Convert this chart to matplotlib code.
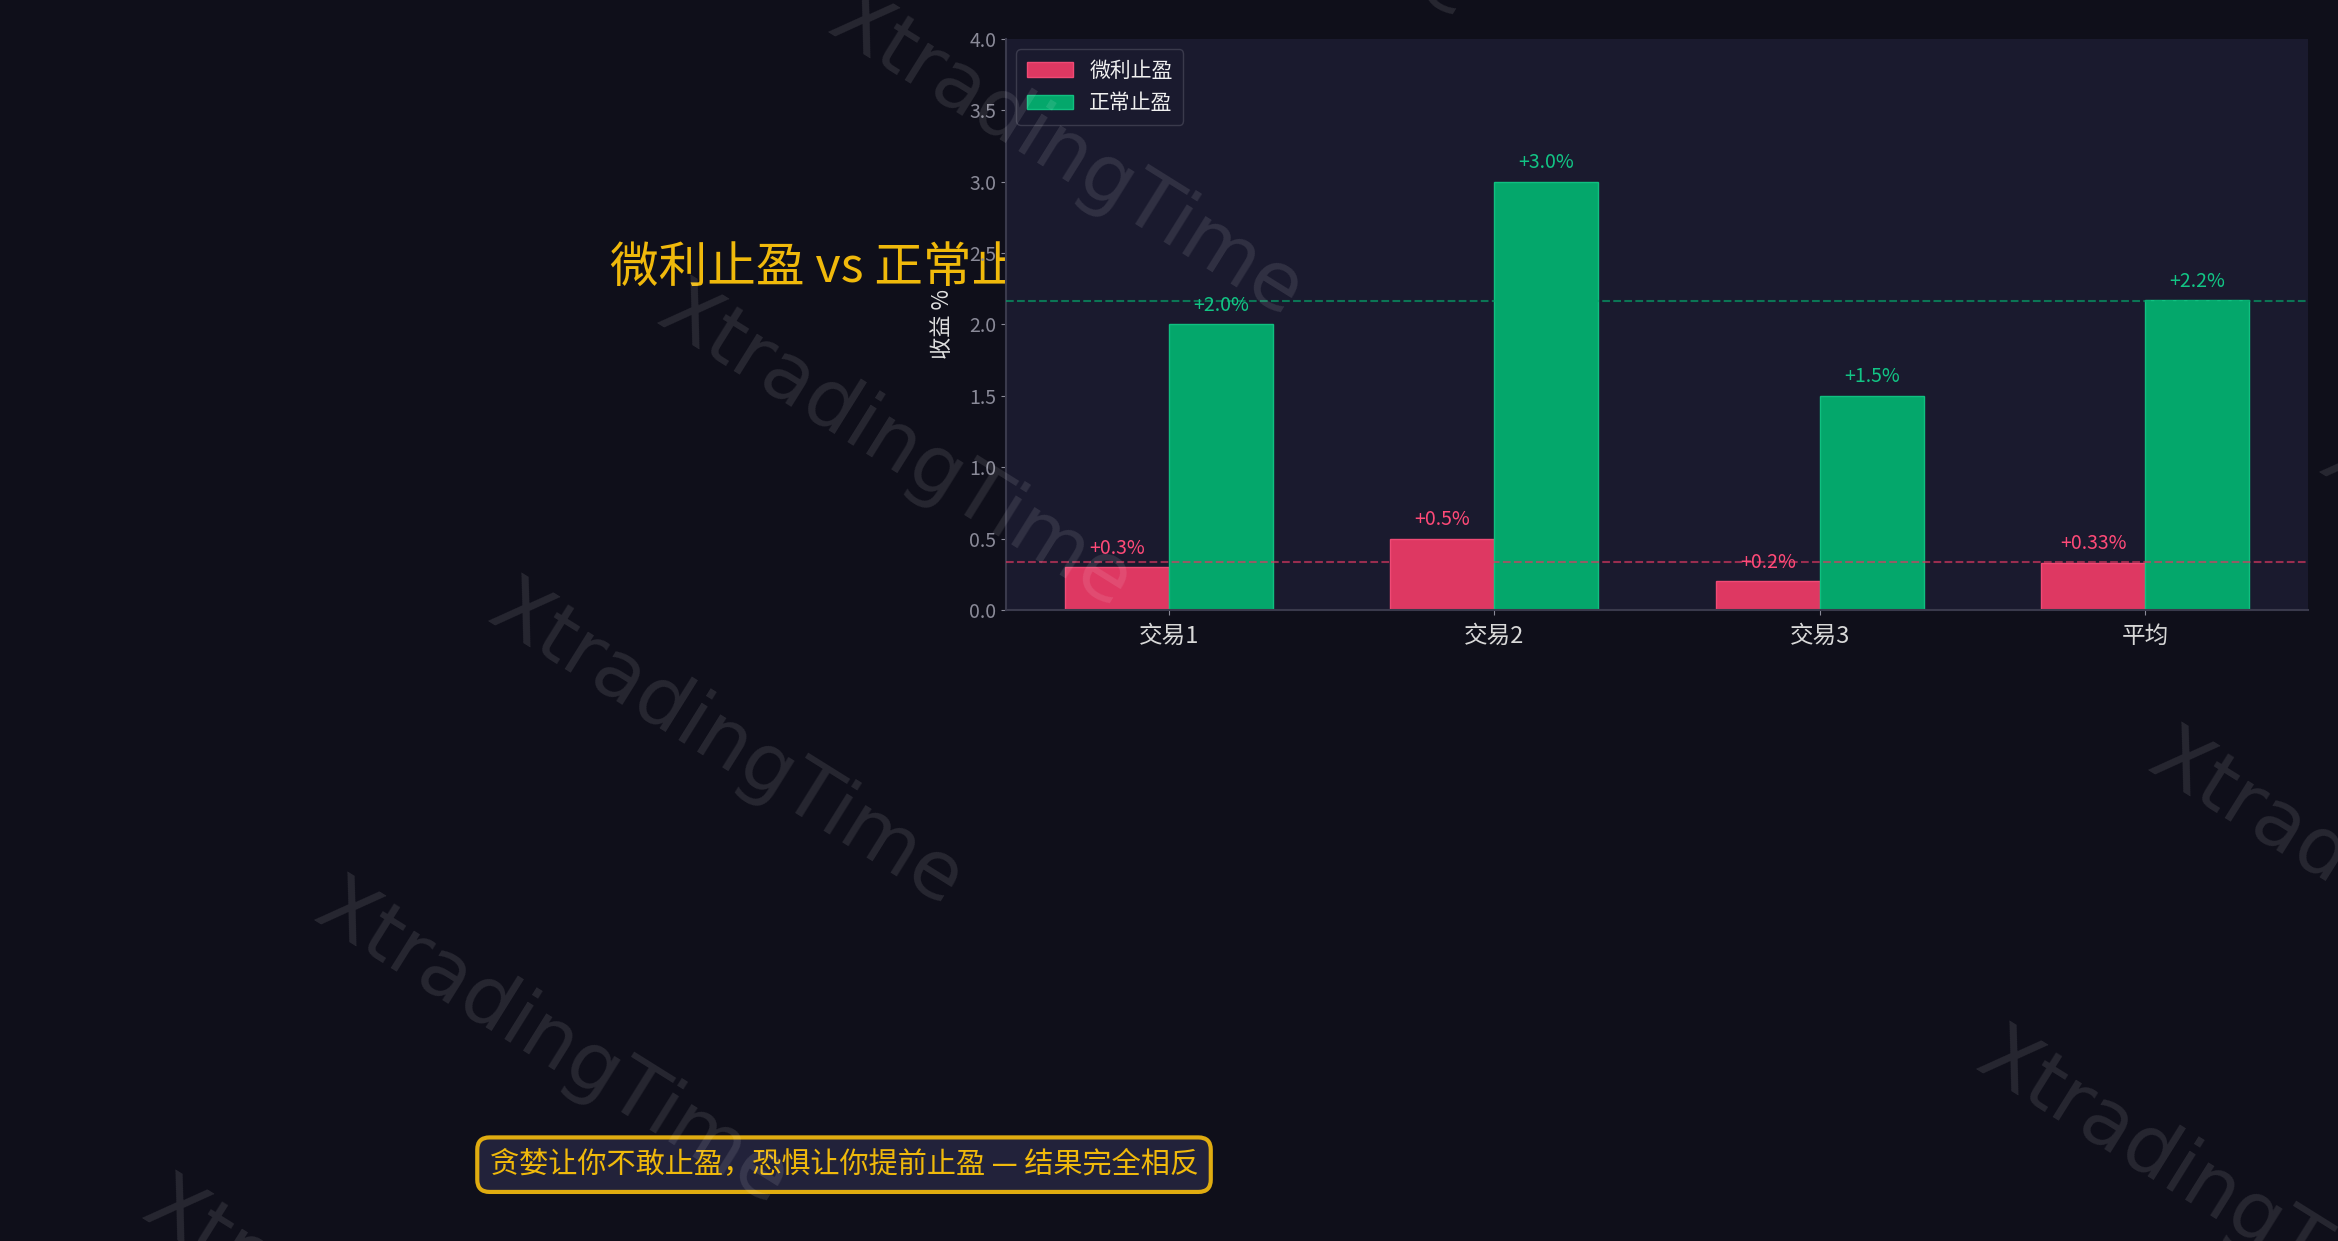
import matplotlib
matplotlib.use("Agg")
import matplotlib.pyplot as plt
import numpy as np

plt.rcParams['font.family'] = ['Noto Sans CJK SC', 'DejaVu Sans']

# data
categories = ["交易1", "交易2", "交易3", "平均"]
small_tp = [0.3, 0.5, 0.2, 0.33]
normal_tp = [2.0, 3.0, 1.5, 2.17]
small_labels = ["+0.3%", "+0.5%", "+0.2%", "+0.33%"]
normal_labels = ["+2.0%", "+3.0%", "+1.5%", "+2.2%"]
series_names = ["微利止盈", "正常止盈"]
title = "微利止盈 vs 正常止盈"
footer = "贪婪让你不敢止盈，恐惧让你提前止盈 — 结果完全相反"

BG = "#0f0f1a"
AX_BG = "#1a1a2e"
PINK = "#de3862"
GREEN = "#04a76b"
GOLD = "#f0b90b"

fig = plt.figure(figsize=(23.38, 12.41), dpi=100, facecolor=BG)
ax = fig.add_axes([0.4303, 0.5085, 0.5569, 0.4601])
ax.set_facecolor(AX_BG)

x = np.arange(len(categories))
w = 0.32
ax.bar(x - w / 2, small_tp, w, color=PINK, edgecolor="#f04a75", linewidth=1, label=series_names[0], zorder=2)
ax.bar(x + w / 2, normal_tp, w, color=GREEN, edgecolor="#10c080", linewidth=1, label=series_names[1], zorder=2)

for xi, h, s in zip(x - w / 2, small_tp, small_labels):
    ax.text(xi, h + 0.06, s, ha="center", va="bottom", color="#ff4a78", fontsize=14, zorder=4)
for xi, h, s in zip(x + w / 2, normal_tp, normal_labels):
    ax.text(xi, h + 0.06, s, ha="center", va="bottom", color="#12c585", fontsize=14, zorder=4)

ax.axhline(np.mean(small_tp[:3]), color=PINK, linestyle="--", linewidth=1.5, alpha=0.65, zorder=3)
ax.axhline(np.mean(normal_tp[:3]), color=GREEN, linestyle="--", linewidth=1.5, alpha=0.65, zorder=3)

ax.set_xlim(-0.5, len(categories) - 0.5)
ax.set_ylim(0, 4.0)
ax.set_yticks(np.arange(0, 4.01, 0.5))
ax.set_xticks(x)
ax.set_xticklabels(categories, fontsize=17, color="#d8d8d8")
ax.tick_params(axis="y", colors="#8a8a98", labelsize=14)
ax.tick_params(axis="x", colors="#8a8a98", labelcolor="#d8d8d8", pad=7)
for sp in ["top", "right"]:
    ax.spines[sp].set_visible(False)
for sp in ["left", "bottom"]:
    ax.spines[sp].set_color("#3a3a4c")
    ax.spines[sp].set_linewidth(1.5)

ax.set_ylabel("收益 %", color="#e0e0e0", fontsize=16)
ax.yaxis.set_label_coords(-0.040, 0.5)

ax.legend(loc="upper left", fontsize=15, facecolor=AX_BG, edgecolor="#3a3a4c",
          labelcolor="#f0f0f0", framealpha=1.0, handlelength=2.2, borderpad=0.5)

# title sits behind the axes
fig.text(0.261, 0.784, title, color=GOLD, fontsize=35, ha="left", va="center", zorder=-1)

fig.text(0.361, 0.0615, footer, color=GOLD, fontsize=21, ha="center", va="center",
         bbox=dict(boxstyle="round,pad=0.42", fc="#22223a", ec="#e0ac10", lw=3))

# watermark
wm_pos = [(715, 105), (600, 300), (487, 500), (370, 700), (255, 900),
          (830, -95), (1600, 600), (1485, 800), (1715, 400)]
for px, py in wm_pos:
    fig.text(px / 1568, 1 - py / 832, "XtradingTime", fontsize=58, color="white", alpha=0.1,
             rotation=-32, ha="center", va="center", rotation_mode="anchor",
             family="DejaVu Sans", zorder=10)

fig.savefig("out.png", dpi=100, facecolor=BG)
